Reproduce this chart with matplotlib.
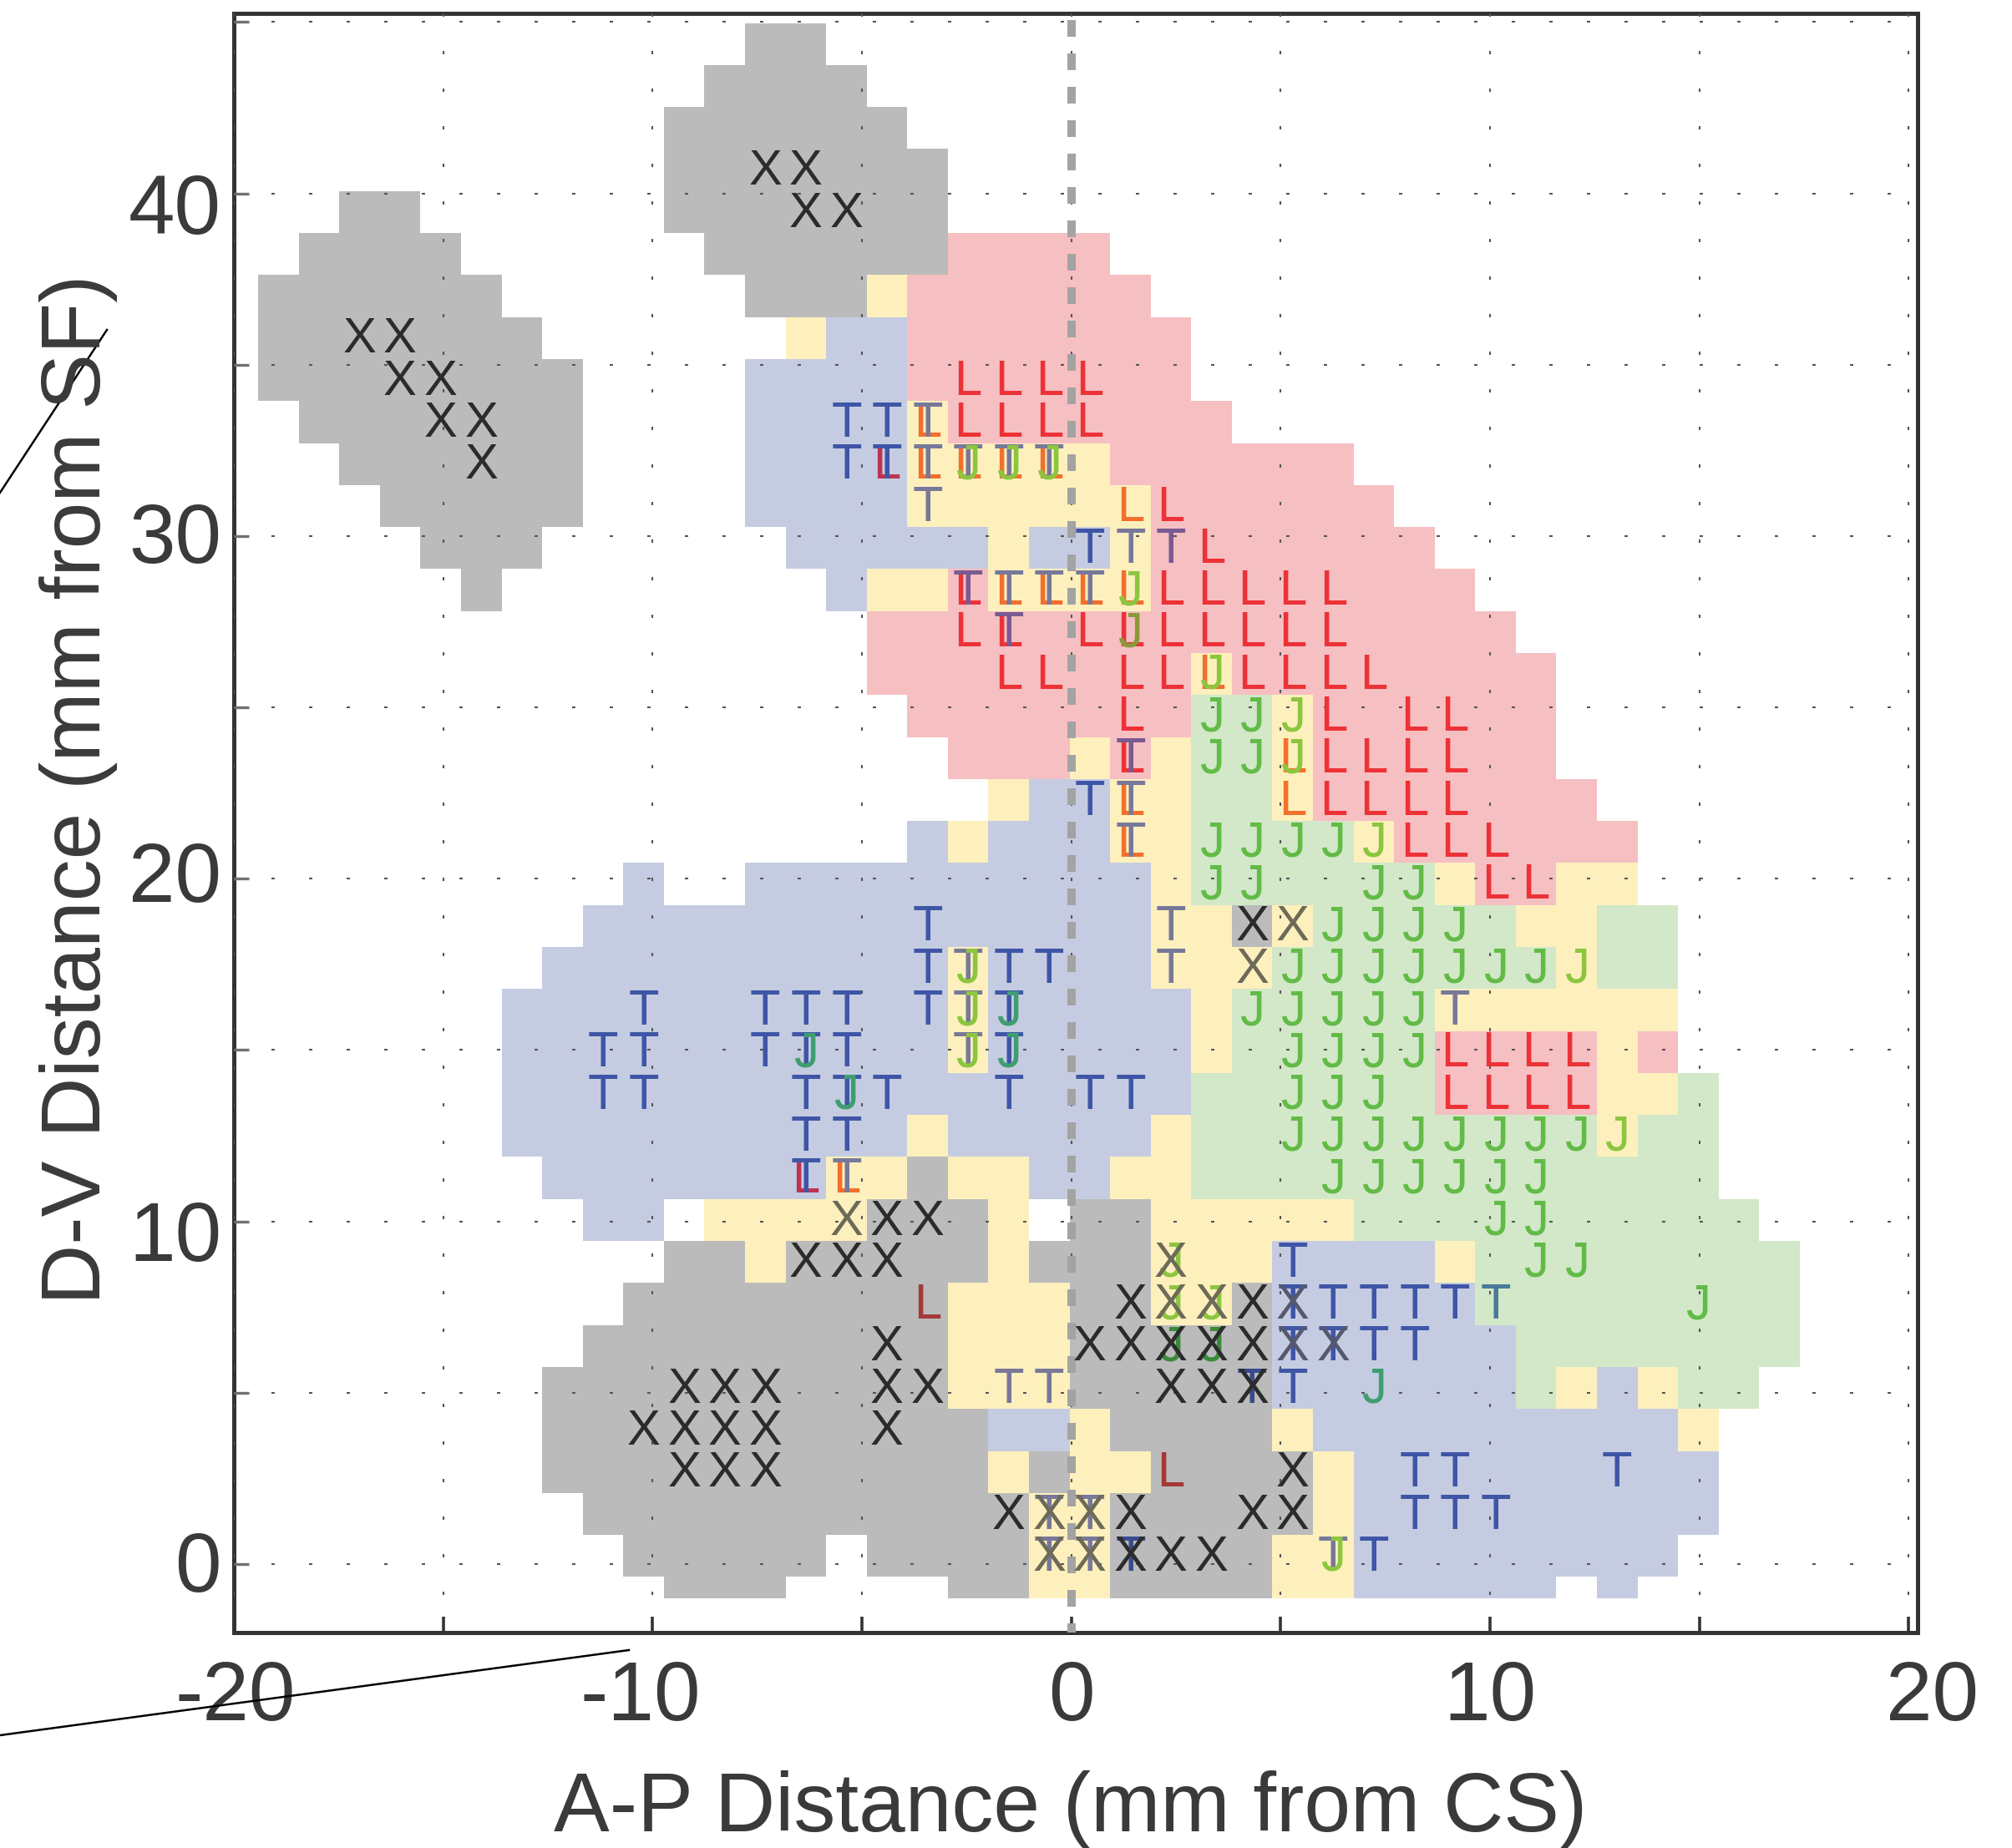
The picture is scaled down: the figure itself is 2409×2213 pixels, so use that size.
import re
import matplotlib
matplotlib.use("Agg")
import matplotlib.pyplot as plt
from matplotlib.lines import Line2D

plt.rcParams['font.family'] = ['Liberation Sans', 'DejaVu Sans']

W, H = 2409, 2213

# cell colours per row, top row first: <class><first col>[-<last col>]
CELL_ROWS = [
    "G12-13",
    "G11-14",
    "G10-15",
    "G10-16",
    "G2-3 G10-16",
    "G1-4 G11-16 R17-20",
    "G0-5 G12-14 Y15 R16-21",
    "G0-6 Y13 B14-15 R16-22",
    "G0-7 B12-15 R16-22",
    "G1-7 B12-15 Y16 R17-23",
    "G2-7 B12-15 Y16-20 R21-26",
    "G3-7 B12-15 Y16-21 R22-27",
    "G4-6 B13-17 Y18 B19-20 Y21 R22-28",
    "G5 B14 Y15-16 R17 Y18-21 R22-29",
    "R15-30",
    "R15-22 Y23 R24-31",
    "R16-22 N23-24 Y25 R26-31",
    "R17-19 Y20 R21 Y22 N23-24 Y25 R26-31",
    "Y18 B19-20 Y21-22 N23-24 Y25 R26-32",
    "B16 Y17 B18-20 Y21-22 N23-26 Y27 R28-33",
    "B9 B12-21 Y22 N23-28 Y29 R30-31 Y32-33",
    "B8-21 Y22-23 G24 Y25 N26-30 Y31-32 N33-34",
    "B7-16 Y17 B18-21 Y22-24 N25-31 Y32 N33-34",
    "B6-16 Y17 B18-22 Y23 N24-28 Y29-34",
    "B6-16 Y17 B18-22 Y23 N24-28 R29-32 Y33 R34",
    "B6-22 N23-28 R29-32 Y33-34 N35",
    "B6-15 Y16 B17-21 Y22 N23-32 Y33 N34-35",
    "B7-13 Y14-15 G16 Y17-18 B19-20 Y21-22 N23-35",
    "B8-9 Y11-14 G15-17 Y18 G20-21 Y22-26 N27-36",
    "G10-11 Y12 G13-17 Y18 G19-21 Y22-24 B25-28 Y29 N30-37",
    "G9-16 Y17-19 G20-21 Y22-23 G24 B25-29 N30-37",
    "G8-16 Y17-19 G20-24 B25-30 N31-37",
    "G7-16 Y17-19 G20-24 B25-30 N31 Y32 B33 Y34 N35-36",
    "G7-17 B18-19 Y20 G21-24 Y25 B26-34 Y35",
    "G7-17 Y18 G19 Y20-21 G22-25 Y26 B27-35",
    "G8-18 Y19-20 G21-25 Y26 B27-35",
    "G9-13 G15-18 Y19-20 G21-24 Y25-26 B27-34",
    "G10-12 G17-18 Y19-20 G21-24 Y25-26 B27-31 B33",
]

# letters: row -> columns
T_SITES = {9: [14, 15, 16], 10: [14, 15, 16, 17, 18, 19], 11: [16], 12: [20, 21, 22],
           13: [17, 18, 19, 20], 14: [18], 17: [21], 18: [20, 21], 19: [21], 21: [16, 22],
           22: [16, 17, 18, 19, 22], 23: [9, 12, 13, 14, 16, 17, 18, 29],
           24: [8, 9, 12, 13, 14, 17, 18], 25: [8, 9, 13, 14, 15, 18, 20, 21],
           26: [13, 14], 27: [13, 14], 29: [25], 30: [25, 26, 27, 28, 29, 30],
           31: [25, 26, 27, 28], 32: [18, 19, 24, 25], 34: [28, 29, 33],
           35: [19, 20, 28, 29, 30], 36: [19, 20, 21, 26, 27]}
L_SITES = {8: [17, 18, 19, 20], 9: [16, 17, 18, 19, 20], 10: [15, 16, 17, 18, 19], 11: [21, 22],
           12: [23], 13: [17, 18, 19, 20, 21, 22, 23, 24, 25, 26],
           14: [17, 18, 20, 21, 22, 23, 24, 25, 26], 15: [18, 19, 21, 22, 23, 24, 25, 26, 27],
           16: [21, 26, 28, 29], 17: [21, 25, 26, 27, 28, 29], 18: [21, 25, 26, 27, 28, 29],
           19: [21, 28, 29, 30], 20: [30, 31], 24: [29, 30, 31, 32], 25: [29, 30, 31, 32],
           27: [13, 14], 30: [16], 34: [22]}
J_SITES = {10: [17, 18, 19], 13: [21], 14: [21], 15: [23], 16: [23, 24, 25], 17: [23, 24, 25],
           19: [23, 24, 25, 26, 27], 20: [23, 24, 27, 28], 21: [26, 27, 28, 29],
           22: [17, 25, 26, 27, 28, 29, 30, 31, 32], 23: [17, 18, 24, 25, 26, 27, 28],
           24: [13, 17, 18, 25, 26, 27, 28], 25: [14, 25, 26, 27],
           26: [25, 26, 27, 28, 29, 30, 31, 32, 33], 27: [26, 27, 28, 29, 30, 31],
           28: [30, 31], 29: [22, 31, 32], 30: [22, 23, 35], 31: [22, 23], 32: [27], 36: [26]}
X_SITES = {3: [12, 13], 4: [13, 14], 7: [2, 3], 8: [3, 4], 9: [4, 5], 10: [5], 21: [24, 25],
           22: [24], 28: [14, 15, 16], 29: [13, 14, 15, 22], 30: [21, 22, 23, 24, 25],
           31: [15, 20, 21, 22, 23, 24, 25, 26], 32: [10, 11, 12, 15, 16, 22, 23, 24],
           33: [9, 10, 11, 12, 15], 34: [10, 11, 12, 25], 35: [18, 19, 20, 21, 24, 25],
           36: [19, 20, 21, 22, 23]}

x_ticks = [-20, -15, -10, -5, 0, 5, 10, 15, 20]
y_ticks = [0, 5, 10, 15, 20, 25, 30, 35, 40, 45]
x_labels = ["-20", "-10", "0", "10", "20"]
x_label_pos = [-20, -10, 0, 10, 20]
x_label_shift = [2, -15, 0, 0, 28]
y_labels = ["0", "10", "20", "30", "40"]
y_label_pos = [0, 10, 20, 30, 40]
y_label_drop = [33, 47, 28, 32, 48]

CELL_COLOURS = {'G': '#BBBBBB', 'B': '#C5CCE2', 'Y': '#FDF0BD', 'R': '#F6BFC2', 'N': '#D2E8C8'}
# the letter takes a different tint depending on the cell under it
LETTER_COLOURS = {
    'T': {'B': '#3F56A6', 'Y': '#78789A', 'R': '#7B5A92', 'N': '#4A7A9A', 'G': '#3B4A8C'},
    'L': {'R': '#EC3237', 'Y': '#F26F2D', 'B': '#BE3350', 'G': '#A33A38'},
    'J': {'N': '#62BB47', 'Y': '#8CC63F', 'B': '#3F9E70', 'G': '#3A8A3A', 'R': '#8A9A3A'},
    'X': {'G': '#2B2B2B', 'Y': '#6E6A58', 'B': '#55586E'},
}

X0, DX = -19.42, 0.969
Y0, DY = 44.97, 1.2256
TEXT_COLOUR = '#3A3A3A'

fig = plt.figure(figsize=(W / 100, H / 100), dpi=100)
ax = fig.add_axes([280 / W, 1 - 1955 / H, (2295.7 - 280) / W, (1955 - 15.7) / H])
ax.set_xlim(-19.976, 20.21)
ax.set_ylim(-2.0, 45.26)

cell_class = {}
for r, spec in enumerate(CELL_ROWS):
    height = DY * (0.5 if r == len(CELL_ROWS) - 1 else 1)
    for kind, first, last in re.findall(r'([A-Z])(\d+)(?:-(\d+))?', spec):
        first = int(first)
        last = int(last) if last else first
        for c in range(first, last + 1):
            cell_class[(r, c)] = kind
        ax.bar(X0 + DX * first, -height, width=DX * (last - first + 1), bottom=Y0 - DY * r,
               align='edge', color=CELL_COLOURS[kind], linewidth=0, antialiased=False, zorder=1)

ax.set_xticks(x_ticks)
ax.set_yticks(y_ticks)
ax.set_xticklabels([])
ax.set_yticklabels([])
ax.grid(True, color='#555555', linewidth=1.5, linestyle=(0, (1.9, 19.7)), zorder=2)
ax.set_axisbelow(False)
ax.tick_params(axis='x', direction='in', length=14, width=2.6, color='#333333', top=False)
ax.tick_params(axis='y', direction='in', length=13, width=2.4, color='#707070', right=False)
for side in ax.spines.values():
    side.set_linewidth(3.6)
    side.set_color('#333333')

ax.axvline(0, color='#A3A3A3', linewidth=7.2, linestyle=(0.9, (2, 2)), zorder=3)

for letter, sites in [('L', L_SITES), ('T', T_SITES), ('J', J_SITES), ('X', X_SITES)]:
    for r, cols in sites.items():
        for c in cols:
            kind = cell_class.get((r, c), 'B')
            ax.text(X0 + DX * (c + 0.5), Y0 - DY * (r + 0.85), letter, fontsize=43,
                    color=LETTER_COLOURS[letter].get(kind, '#333333'),
                    ha='center', va='baseline', zorder=4)

for v, shift, s in zip(x_label_pos, x_label_shift, x_labels):
    ax.annotate(s, (v, 0), xycoords=ax.get_xaxis_transform(), xytext=(shift, -105),
                textcoords='offset pixels', ha='center', va='baseline',
                fontsize=72, color=TEXT_COLOUR, annotation_clip=False)
for v, drop, s in zip(y_label_pos, y_label_drop, y_labels):
    ax.annotate(s, (0, v), xycoords=ax.get_yaxis_transform(), xytext=(-15, -drop),
                textcoords='offset pixels', ha='right', va='baseline',
                fontsize=72, color=TEXT_COLOUR, annotation_clip=False)

fig.text(1282 / W, 1 - 2193 / H, "A-P Distance (mm from CS)", fontsize=72, color=TEXT_COLOUR,
         ha='center', va='baseline')
fig.text(120 / W, 1 - 945 / H, "D-V Distance (mm from SF)", fontsize=72, color=TEXT_COLOUR,
         rotation=90, rotation_mode='anchor', ha='center', va='baseline')

# two stray leader lines that run off the left edge
fig.add_artist(Line2D([0, 128 / W], [1 - 590 / H, 1 - 395 / H], color='black', linewidth=1.8))
fig.add_artist(Line2D([0, 753 / W], [1 - 2078 / H, 1 - 1976 / H], color='black', linewidth=1.8))

fig.savefig("out.png", dpi=100)
